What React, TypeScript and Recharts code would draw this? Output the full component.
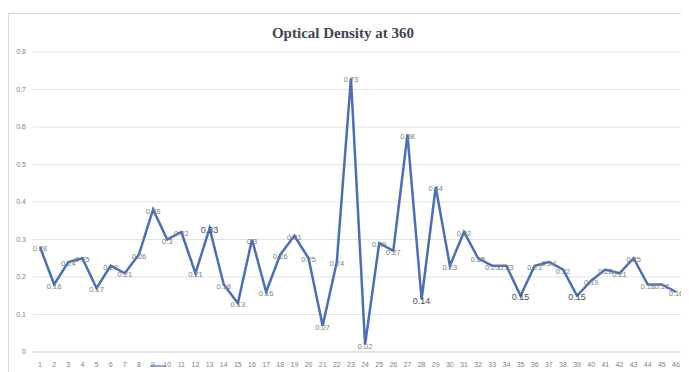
import React from "react";
import { LineChart, Line, XAxis, YAxis, CartesianGrid, LabelList } from "recharts";

const samples: string[] = Array.from({ length: 46 }, (_, i) => String(i + 1));
const density: number[] = [
  0.28, 0.18, 0.24, 0.25, 0.17, 0.23, 0.21, 0.26, 0.38, 0.3,
  0.32, 0.21, 0.33, 0.18, 0.13, 0.3, 0.16, 0.26, 0.31, 0.25,
  0.07, 0.24, 0.73, 0.02, 0.29, 0.27, 0.58, 0.14, 0.44, 0.23,
  0.32, 0.25, 0.23, 0.23, 0.15, 0.23, 0.24, 0.22, 0.15, 0.19,
  0.22, 0.21, 0.25, 0.18, 0.18, 0.16,
];
const yTicks: number[] = [0, 0.1, 0.2, 0.3, 0.4, 0.5, 0.6, 0.7, 0.8];
const bigLabels: number[] = [12, 27, 34, 38];

const data = samples.map((s, i) => ({ sample: s, od: density[i] }));

const FONT = "Liberation Sans, sans-serif";

const PointLabel = (props: any) => {
  const { x, y, index, value } = props;
  const big = bigLabels.includes(index);
  return (
    <text
      x={x}
      y={y + (big ? 4.5 : 4)}
      textAnchor="middle"
      fontSize={big ? 9 : 7.5}
      fontFamily={FONT}
      fill={big ? "#4a4a4a" : "#808080"}
    >
      {value}
    </text>
  );
};

export default function App() {
  return (
    <div style={{ position: "relative", width: 689, height: 372, marginLeft: -8, marginTop: -8, background: "#fff" }}>
      <svg width={689} height={372} style={{ position: "absolute", left: 0, top: 0 }}>
        <line x1={8} y1={13.5} x2={689} y2={13.5} stroke="#d9d9d9" />
        <line x1={8.5} y1={13} x2={8.5} y2={372} stroke="#d9d9d9" />
        <text
          x={343}
          y={38}
          textAnchor="middle"
          fontFamily="Liberation Serif, serif"
          fontWeight="bold"
          fontSize={15}
          fill="#3f4652"
        >
          Optical Density at 360
        </text>
      </svg>
      <div style={{ position: "absolute", left: 0, top: 0 }}>
        <LineChart width={689} height={372} data={data} margin={{ top: 52, right: 6, bottom: 0, left: 0 }}>
          <CartesianGrid vertical={false} stroke="#e3e3e3" />
          <XAxis
            dataKey="sample"
            height={20}
            interval={0}
            ticks={samples}
            padding={{ left: 7, right: 7 }}
            axisLine={{ stroke: "#d9d9d9" }}
            tickLine={false}
            tickMargin={4}
            tick={{ fontSize: 7, fill: "#7f7f7f", fontFamily: FONT }}
          />
          <YAxis
            width={33}
            domain={[0, 0.8]}
            ticks={yTicks}
            axisLine={false}
            tickLine={false}
            tick={{ fontSize: 7, fill: "#7f7f7f", fontFamily: FONT }}
            tickMargin={1}
          />
          <Line
            type="linear"
            dataKey="od"
            stroke="#4a6fb5"
            strokeWidth={2.5}
            dot={false}
            isAnimationActive={false}
          >
            <LabelList dataKey="od" content={<PointLabel />} />
          </Line>
        </LineChart>
      </div>
      <svg width={689} height={372} style={{ position: "absolute", left: 0, top: 0, pointerEvents: "none" }}>
        <line x1={150} y1={366} x2={166} y2={366} stroke="#4472c4" strokeWidth={1.5} opacity={0.8} />
      </svg>
    </div>
  );
}
